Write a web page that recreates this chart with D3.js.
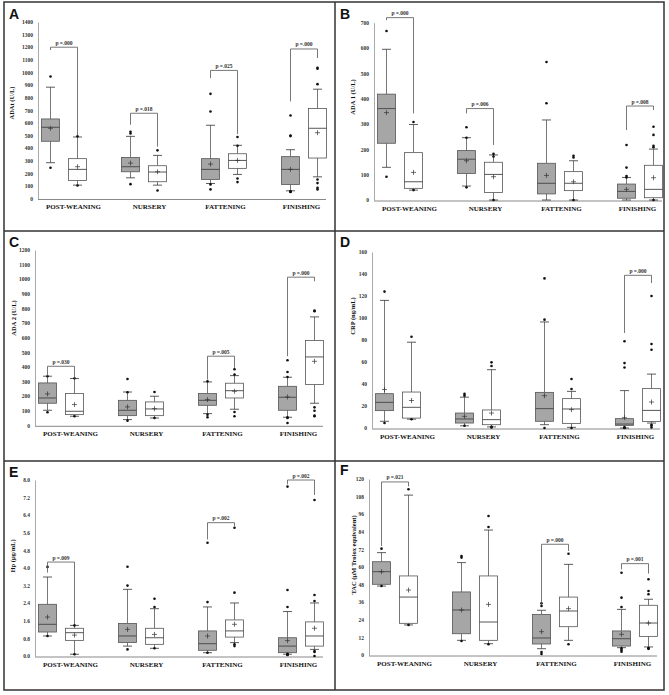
<!DOCTYPE html>
<html>
<head>
<meta charset="utf-8">
<script src="https://cdn.jsdelivr.net/npm/d3@7"></script>
<style>
  body { margin: 0; background: #fff; }
  svg { display: block; }
</style>
</head>
<body>
<svg id="fig" width="669" height="695"></svg>
<script>
const stages = ["POST-WEANING", "NURSERY", "FATTENING", "FINISHING"];

// row: stage, group (g = grey box, w = white box), low whisker, q1, median, q3, high whisker, mean, outliers
const adatBoxes = [
  ["POST-WEANING", "g", 284, 454, 565, 631, 883, 557, [968, 244]],
  ["POST-WEANING", "w", 106, 143, 231, 316, 488, 252, [493, 103]],
  ["NURSERY", "g", 164, 212, 252, 326, 493, 281, [530, 515, 114]],
  ["NURSERY", "w", 106, 133, 210, 260, 342, 212, [382, 64]],
  ["FATTENING", "g", 119, 151, 231, 316, 581, 273, [830, 690, 112, 72]],
  ["FATTENING", "w", 191, 239, 302, 355, 422, 302, [488, 419, 159, 130]],
  ["FINISHING", "g", 61, 111, 231, 332, 387, 231, [658, 500, 495, 58, 52, 55, 56]],
  ["FINISHING", "w", 172, 321, 557, 714, 867, 522, [1037, 1029, 907, 151, 122, 85, 72]]
];
// row: stage, p label, bracket top, left leg end, right leg end
const adatP = [
  ["POST-WEANING", ".000", 1200, 1178, 500],
  ["NURSERY", ".018", 676, 585, 411],
  ["FATTENING", ".025", 1016, 955, 512],
  ["FINISHING", ".000", 1186, 770, 1114]
];
const adatTicks = [0, 100, 200, 300, 400, 500, 600, 700, 800, 900, 1000, 1100, 1200, 1300, 1400];

const ada1Boxes = [
  ["POST-WEANING", "g", 129, 224, 361, 418, 595, 345, [667, 92]],
  ["POST-WEANING", "w", 39, 46, 72, 187, 298, 109, [308, 39]],
  ["NURSERY", "g", 55, 105, 161, 195, 246, 155, [287, 246, 50]],
  ["NURSERY", "w", 0, 30, 101, 149, 178, 92, [182, 172, 0]],
  ["FATTENING", "g", 0, 24, 66, 145, 316, 97, [545, 382]],
  ["FATTENING", "w", 0, 37, 66, 112, 155, 72, [175, 168, 0]],
  ["FINISHING", "g", 0, 7, 34, 63, 89, 42, [217, 128, 95, 89]],
  ["FINISHING", "w", 0, 9, 42, 137, 201, 88, [289, 257, 214, 208, 0]]
];
const ada1P = [
  ["POST-WEANING", ".000", 720, 710, 342],
  ["NURSERY", ".006", 361, 342, 217],
  ["FINISHING", ".008", 371, 276, 355]
];
const ada1Ticks = [0, 100, 200, 300, 400, 500, 600, 700];

const ada2Boxes = [
  ["POST-WEANING", "g", 103, 151, 187, 290, 336, 215, [336, 89]],
  ["POST-WEANING", "w", 62, 73, 96, 217, 320, 142, [322, 62]],
  ["NURSERY", "g", 39, 66, 103, 171, 228, 126, [317, 226, 32]],
  ["NURSERY", "w", 50, 66, 112, 160, 199, 114, [228, 50]],
  ["FATTENING", "g", 80, 137, 171, 217, 297, 176, [301, 73, 55]],
  ["FATTENING", "w", 110, 187, 237, 288, 340, 233, [384, 347, 91, 62]],
  ["FINISHING", "g", 55, 103, 192, 267, 329, 194, [445, 365, 331, 55, 50, 16]],
  ["FINISHING", "w", 151, 279, 468, 580, 742, 438, [785, 781, 123, 100, 66, 62]]
];
const ada2P = [
  ["POST-WEANING", ".030", 404, 336, 320],
  ["FATTENING", ".005", 473, 313, 393],
  ["FINISHING", ".000", 1014, 473, 986]
];
const ada2Ticks = [0, 100, 200, 300, 400, 500, 600, 700, 800, 900, 1000, 1100, 1200];

const crpBoxes = [
  ["POST-WEANING", "g", 6.1, 15.8, 23.3, 31.2, 116, 35, [124, 4.5]],
  ["POST-WEANING", "w", 8, 9, 18.8, 32.7, 78, 25, [83, 8]],
  ["NURSERY", "g", 2, 4.5, 8.2, 13.6, 28, 10.6, [31, 29.4, 2]],
  ["NURSERY", "w", 1, 3, 7.6, 16.4, 53, 13.6, [59.7, 56.4, 1, 0.5]],
  ["FATTENING", "g", 3, 6.1, 17.6, 32.4, 96.4, 29.4, [136, 98.5, 0]],
  ["FATTENING", "w", 0.6, 4.2, 17.3, 26.7, 33.3, 16.7, [44.5, 35.5, 0]],
  ["FINISHING", "g", 0, 2.4, 3.6, 8.5, 34, 9.4, [78.8, 59, 55, 0, 0.3, 0.6]],
  ["FINISHING", "w", 4.5, 6, 16, 35.8, 49, 23.6, [120, 76.4, 71.2, 3, 2, 0.5]]
];
const crpP = [
  ["FINISHING", ".000", 138.8, 86.4, 131.8]
];
const crpTicks = [0, 20, 40, 60, 80, 100, 120, 140, 160];

const hpBoxes = [
  ["POST-WEANING", "g", 0.91, 1.09, 1.44, 2.35, 3.59, 1.77, [4.05, 0.91]],
  ["POST-WEANING", "w", 0.08, 0.71, 1.06, 1.26, 1.39, 0.95, [1.39, 0.08]],
  ["NURSERY", "g", 0.45, 0.61, 0.91, 1.48, 3.03, 1.21, [4.06, 3.2, 0.3]],
  ["NURSERY", "w", 0.35, 0.53, 0.83, 1.26, 2.15, 0.98, [2.6, 2.23, 0.35]],
  ["FATTENING", "g", 0.15, 0.26, 0.56, 1.14, 2.23, 0.91, [5.15, 2.45, 0.15]],
  ["FATTENING", "w", 0.61, 0.86, 1.14, 1.64, 2.41, 1.44, [5.83, 2.88, 0.53, 0.45]],
  ["FINISHING", "g", 0.08, 0.15, 0.45, 0.83, 2.02, 0.7, [7.7, 3.0, 2.23, 0.08, 0.06, 0.1, 0.05]],
  ["FINISHING", "w", 0.3, 0.45, 0.91, 1.55, 2.41, 1.26, [7.09, 2.77, 2.5, 0.23, 0.18, 0]]
];
const hpP = [
  ["POST-WEANING", ".009", 4.27, 3.79, 1.44],
  ["FATTENING", ".002", 6.06, 5.3, 5.9],
  ["FINISHING", ".002", 8.0, 7.8, 7.32]
];
const hpTicks = [0, 0.8, 1.6, 2.4, 3.2, 4.0, 4.8, 5.6, 6.4, 7.2, 8.0];

const tacBoxes = [
  ["POST-WEANING", "g", 47, 48.2, 56.8, 63.6, 69.8, 56.8, [72.5, 47]],
  ["POST-WEANING", "w", 20.5, 21.6, 39.5, 53.9, 109, 44.3, [113, 20.5]],
  ["NURSERY", "g", 10, 14.5, 30.7, 43, 63, 30.7, [67.5, 66.4, 9.5]],
  ["NURSERY", "w", 7.7, 10, 22.5, 53.9, 85.2, 34.5, [94.8, 87.3, 7.3]],
  ["FATTENING", "g", 4.3, 7.5, 11.6, 27.7, 30.5, 15.9, [35.2, 33.4, 2, 0.7]],
  ["FATTENING", "w", 10, 19.3, 30, 39.5, 61.8, 31.6, [69, 7.3]],
  ["FINISHING", "g", 5, 6.1, 11.1, 16.4, 31.1, 14.1, [56.1, 39.1, 32.7, 4.5, 3.4, 2.3]],
  ["FINISHING", "w", 5.5, 12.7, 21.8, 33.9, 38, 21.8, [51.6, 43.6, 41.4, 4.5, 4.2, 4.8]]
];
const tacP = [
  ["POST-WEANING", ".021", 118, 74.3, 115],
  ["FATTENING", ".000", 75.5, 34.5, 70.9],
  ["FINISHING", ".001", 62.3, 58.4, 55.5]
];
const tacTicks = [0, 12, 24, 36, 48, 60, 72, 84, 96, 108, 120];

const svg = d3.select("#fig");
const serif = "'Liberation Serif', 'Times New Roman', serif";

// frame around the six panels
svg.append("rect").attr("x", 4).attr("y", 2).attr("width", 660).attr("height", 688)
  .attr("fill", "none").attr("stroke", "#333").attr("stroke-width", 1.5);
svg.append("line").attr("x1", 335).attr("x2", 335).attr("y1", 2).attr("y2", 690)
  .attr("stroke", "#333").attr("stroke-width", 1.5);
[231, 461].forEach(y => {
  svg.append("line").attr("x1", 4).attr("x2", 664).attr("y1", y).attr("y2", y)
    .attr("stroke", "#333").attr("stroke-width", 1.5);
});

const panels = [
  { letter: "A", lx: 9, ly: 19, x0: 38, yTop: 22, yBot: 198.5, max: 1400, title: "ADAt (U/L)", tx: 13, ty: 103,
    boxes: adatBoxes, pvals: adatP, ticks: adatTicks, fmt: d3.format("d") },
  { letter: "B", lx: 340, ly: 19, x0: 374, yTop: 22.7, yBot: 200, max: 700, title: "ADA 1 (U/L)", tx: 354, ty: 97,
    boxes: ada1Boxes, pvals: ada1P, ticks: ada1Ticks, fmt: d3.format("d") },
  { letter: "C", lx: 9, ly: 247, x0: 35, yTop: 250, yBot: 425.3, max: 1200, title: "ADA 2 (U/L)", tx: 15, ty: 318,
    boxes: ada2Boxes, pvals: ada2P, ticks: ada2Ticks, fmt: d3.format("d") },
  { letter: "D", lx: 340, ly: 247, x0: 372, yTop: 252, yBot: 428, max: 160, title: "CRP (ng/mL)", tx: 354, ty: 316,
    boxes: crpBoxes, pvals: crpP, ticks: crpTicks, fmt: d3.format("d") },
  { letter: "E", lx: 9, ly: 477, x0: 35, yTop: 480, yBot: 656, max: 8, title: "Hp (μg/mL)", tx: 14, ty: 556,
    boxes: hpBoxes, pvals: hpP, ticks: hpTicks, fmt: d3.format(".1f") },
  { letter: "F", lx: 340, ly: 475, x0: 369, yTop: 479, yBot: 655, max: 120, title: "TAC (μM Trolox equivalent)", tx: 355, ty: 555,
    boxes: tacBoxes, pvals: tacP, ticks: tacTicks, fmt: d3.format("d") }
];

panels.forEach(p => {
  const g = svg.append("g");
  const y = d3.scaleLinear().domain([0, p.max]).range([p.yBot, p.yTop]);
  const x = d3.scalePoint().domain(stages).range([p.x0 + 26, p.x0 + 266]);
  const xl = d3.scalePoint().domain(stages).range([p.x0 + 35, p.x0 + 263]);
  const off = { g: -13.5, w: 13.5 };
  const bw = 18;

  g.append("text").attr("x", p.lx).attr("y", p.ly).text(p.letter)
    .attr("font-family", "'Liberation Sans', Arial, sans-serif").attr("font-weight", "bold")
    .attr("font-size", 14).attr("fill", "#111");

  // y axis
  const ya = g.append("g").attr("transform", `translate(${p.x0},0)`)
    .call(d3.axisLeft(y).tickValues(p.ticks).tickFormat(p.fmt).tickSize(0).tickPadding(5));
  ya.select(".domain").attr("stroke", "#aaa").attr("stroke-width", 1);
  ya.selectAll("text").attr("font-family", serif).attr("font-size", 5.5).attr("font-weight", "bold").attr("fill", "#333");

  // x baseline and stage labels
  g.append("line").attr("x1", p.x0).attr("x2", p.x0 + 288).attr("y1", p.yBot + 1).attr("y2", p.yBot + 1)
    .attr("stroke", "#888").attr("stroke-width", 1);
  const xa = g.append("g").attr("transform", `translate(0,${p.yBot + 3})`)
    .call(d3.axisBottom(xl).tickSize(0).tickPadding(3));
  xa.select(".domain").remove();
  xa.selectAll("text").attr("font-family", serif).attr("font-size", 7).attr("font-weight", "bold").attr("fill", "#111");

  g.append("text").attr("transform", `translate(${p.tx},${p.ty}) rotate(-90)`)
    .attr("text-anchor", "middle").attr("dominant-baseline", "middle")
    .attr("font-family", serif).attr("font-size", 6.5).attr("font-weight", "bold").attr("fill", "#111")
    .text(p.title);

  // boxes
  p.boxes.forEach(([stage, grp, lo, q1, med, q3, hi, mean, out]) => {
    const cx = x(stage) + off[grp];
    const b = g.append("g");
    b.append("line").attr("x1", cx).attr("x2", cx).attr("y1", y(hi)).attr("y2", y(q3)).attr("stroke", "#555").attr("stroke-width", 0.8);
    b.append("line").attr("x1", cx).attr("x2", cx).attr("y1", y(q1)).attr("y2", y(lo)).attr("stroke", "#555").attr("stroke-width", 0.8);
    [hi, lo].forEach(v => {
      b.append("line").attr("x1", cx - 4.5).attr("x2", cx + 4.5).attr("y1", y(v)).attr("y2", y(v))
        .attr("stroke", "#333").attr("stroke-width", 0.8);
    });
    b.append("rect").attr("x", cx - bw / 2).attr("y", y(q3)).attr("width", bw).attr("height", Math.max(0.5, y(q1) - y(q3)))
      .attr("fill", grp === "g" ? "#a6a6a6" : "#fff").attr("stroke", "#555").attr("stroke-width", 0.8);
    b.append("line").attr("x1", cx - bw / 2).attr("x2", cx + bw / 2).attr("y1", y(med)).attr("y2", y(med))
      .attr("stroke", "#444").attr("stroke-width", 0.9);
    const my = y(mean);
    b.append("path").attr("d", `M${cx - 2.5},${my}H${cx + 2.5}M${cx},${my - 2.5}V${my + 2.5}`)
      .attr("stroke", "#333").attr("stroke-width", 0.7);
    b.selectAll("circle").data(out).join("circle")
      .attr("cx", cx).attr("cy", d => y(d)).attr("r", 1.3).attr("fill", "#111");
  });

  // significance brackets
  p.pvals.forEach(([stage, label, top, leftEnd, rightEnd]) => {
    const x1 = x(stage) + off.g, x2 = x(stage) + off.w;
    g.append("path").attr("d", `M${x1},${y(leftEnd)}V${y(top)}H${x2}V${y(rightEnd)}`)
      .attr("fill", "none").attr("stroke", "#555").attr("stroke-width", 0.8);
    g.append("text").attr("x", (x1 + x2) / 2).attr("y", y(top) - 2.5).attr("text-anchor", "middle")
      .attr("font-family", serif).attr("font-size", 5.5).attr("font-weight", "bold").attr("fill", "#333")
      .text("p =" + label);
  });
});
</script>
</body>
</html>
